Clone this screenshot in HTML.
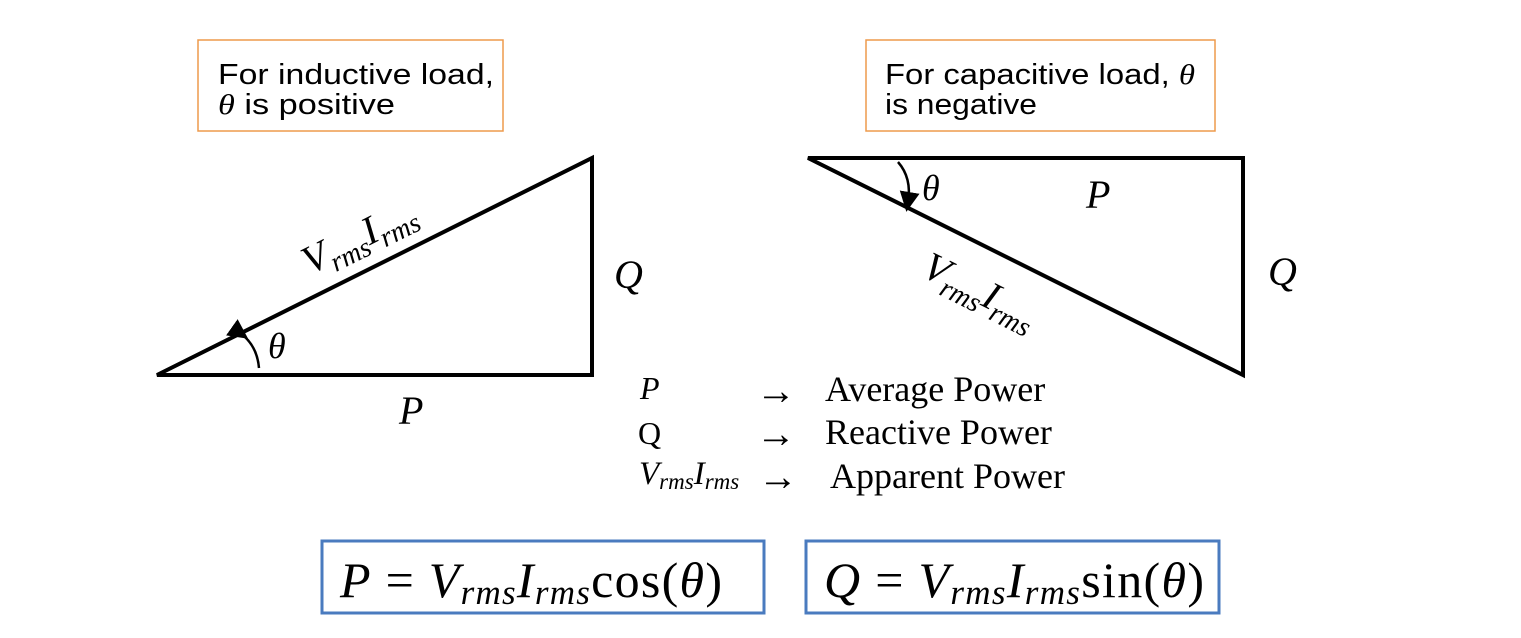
<!DOCTYPE html>
<html><head><meta charset="utf-8"><style>
html,body{margin:0;padding:0;background:#fff;}
svg{display:block;}
.s{font-family:"Liberation Sans",sans-serif;}
.m{font-family:"Liberation Serif",serif;font-style:italic;}
.r{font-family:"Liberation Serif",serif;}
</style></head><body>
<svg width="1521" height="638" viewBox="0 0 1521 638" xmlns="http://www.w3.org/2000/svg">
<defs><marker id="ah" markerWidth="8" markerHeight="8" refX="4" refY="4" orient="auto"><path d="M0,0 L8,4 L0,8 z" fill="#000"/></marker></defs>
<g>
<rect x="198" y="40" width="305" height="91" fill="none" stroke="#ed9a4c" stroke-width="1.5"/>
<text class="s" x="218" y="84" font-size="29" textLength="276" lengthAdjust="spacingAndGlyphs">For inductive load,</text>
<text x="218" y="114" font-size="29" textLength="177" lengthAdjust="spacingAndGlyphs"><tspan class="m">θ</tspan><tspan class="s"> is positive</tspan></text>
</g>
<g>
<rect x="866" y="40" width="349" height="91" fill="none" stroke="#ed9a4c" stroke-width="1.5"/>
<text x="885" y="84" font-size="29" textLength="310" lengthAdjust="spacingAndGlyphs"><tspan class="s">For capacitive load, </tspan><tspan class="m">θ</tspan></text>
<text class="s" x="885" y="114" font-size="29" textLength="152" lengthAdjust="spacingAndGlyphs">is negative</text>
</g>
<g>
<polygon points="157,375 592,375 592,158" fill="none" stroke="#000" stroke-width="4" stroke-linejoin="miter"/>
<text class="m" font-size="40" transform="translate(310,275) rotate(-26.5)">V<tspan font-size="28" dy="9">rms</tspan><tspan dy="-9">I</tspan><tspan font-size="28" dy="9">rms</tspan></text>
<text class="m" x="614" y="288" font-size="40">Q</text>
<text class="m" x="399" y="424" font-size="40">P</text>
<text class="m" x="268" y="358" font-size="36">θ</text>
<path d="M240,333 Q257,345 259,368" fill="none" stroke="#000" stroke-width="2.5" marker-start="url(#ah)"/>
</g>
<g>
<polygon points="808,158 1243,158 1243,375" fill="none" stroke="#000" stroke-width="4"/>
<text class="m" font-size="40" transform="translate(920,275) rotate(26.5)">V<tspan font-size="28" dy="9">rms</tspan><tspan dy="-9">I</tspan><tspan font-size="28" dy="9">rms</tspan></text>
<text class="m" x="1268" y="285" font-size="40">Q</text>
<text class="m" x="1086" y="208" font-size="40">P</text>
<text class="m" x="922" y="200" font-size="36">θ</text>
<path d="M898,162 Q912,178 908,202" fill="none" stroke="#000" stroke-width="2.5" marker-end="url(#ah)"/>
</g>
<g font-size="36">
<text class="m" x="640" y="399" font-size="32">P</text>
<text class="s" x="756" y="404" font-weight="bold" font-size="40">→</text>
<text class="r" x="825" y="401">Average Power</text>
<text class="r" x="638" y="444" font-size="32">Q</text>
<text class="s" x="756" y="447" font-weight="bold" font-size="40">→</text>
<text class="r" x="825" y="444">Reactive Power</text>
<text class="m" x="639" y="484" font-size="33">V<tspan font-size="23" dy="5">rms</tspan><tspan dy="-5">I</tspan><tspan font-size="23" dy="5">rms</tspan></text>
<text class="s" x="758" y="490" font-weight="bold" font-size="40">→</text>
<text class="r" x="830" y="488">Apparent Power</text>
</g>
<g>
<rect x="322" y="541" width="442" height="72" fill="none" stroke="#4a7bbf" stroke-width="3"/>
<text x="340" y="597" font-size="50" textLength="382" lengthAdjust="spacing"><tspan class="m">P</tspan><tspan class="r"> = </tspan><tspan class="m">V</tspan><tspan class="m" font-size="35" dy="7">rms</tspan><tspan class="m" dy="-7">I</tspan><tspan class="m" font-size="35" dy="7">rms</tspan><tspan class="r" dy="-7">cos(</tspan><tspan class="m">θ</tspan><tspan class="r">)</tspan></text>
</g>
<g>
<rect x="806" y="541" width="413" height="72" fill="none" stroke="#4a7bbf" stroke-width="3"/>
<text x="824" y="597" font-size="50" textLength="380" lengthAdjust="spacing"><tspan class="m">Q</tspan><tspan class="r"> = </tspan><tspan class="m">V</tspan><tspan class="m" font-size="35" dy="7">rms</tspan><tspan class="m" dy="-7">I</tspan><tspan class="m" font-size="35" dy="7">rms</tspan><tspan class="r" dy="-7">sin(</tspan><tspan class="m">θ</tspan><tspan class="r">)</tspan></text>
</g>
</svg>
</body></html>
